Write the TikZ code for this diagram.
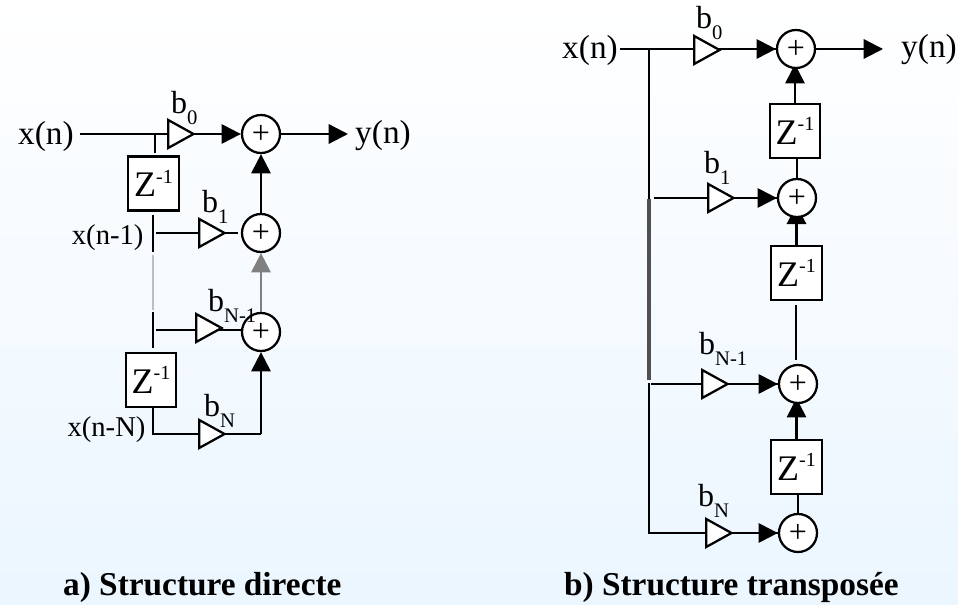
\documentclass[tikz,border=0pt]{standalone}
\usepackage{fontspec}
\setmainfont{Liberation Serif}
\usetikzlibrary{arrows.meta,shapes.geometric,backgrounds}

\definecolor{bgtop}{RGB}{255,255,255}
\definecolor{bgbottom}{RGB}{235,246,255}
\definecolor{fadegray}{RGB}{128,128,128}
\definecolor{palegray}{RGB}{190,190,190}
\definecolor{busgray}{RGB}{80,80,80}

\newcommand{\lowidx}[1]{\raisebox{-0.32em}{\fontsize{15.5}{15.5}\selectfont #1}}
\newcommand{\zinv}{{\fontsize{27}{27}\selectfont Z}\raisebox{0.42em}{\fontsize{15}{15}\selectfont -1}}
\newcommand{\plussign}{\raisebox{-1.5pt}{+}}

\tikzset{every picture/.style={line width=1.7pt}}
\tikzset{
  every on background layer/.style={line width=1.7pt},
  sumnode/.style={circle,draw,fill=white,inner sep=0pt,minimum size=28.5pt,font=\fontsize{24}{24}\selectfont},
  delaybox/.style={rectangle,draw,fill=white,inner sep=0pt,minimum width=38pt,minimum height=40.5pt,font=\fontsize{24}{24}\selectfont},
  gainnode/.style={isosceles triangle,isosceles triangle stretches,shape border rotate=0,draw,fill=white,inner sep=0pt,minimum width=21pt,minimum height=19pt,anchor=apex},
  biglabel/.style={inner sep=1pt,font=\fontsize{25}{25}\selectfont},
  tap/.style={inner sep=1pt,font=\fontsize{21.5}{21.5}\selectfont},
  gainlabel/.style={inner sep=0pt,anchor=base west,font=\fontsize{24}{24}\selectfont},
  caption/.style={inner sep=0pt,anchor=base west,font=\bfseries\fontsize{25}{25}\selectfont},
  headed/.style={-{Triangle[length=14.5pt,width=14.5pt]}},
}

\begin{document}
\begin{tikzpicture}[x=0.75pt,y=0.75pt,yscale=-1,xscale=1]
\useasboundingbox (0,0) rectangle (958,605);

% Left diagram
\node [biglabel] (xa) at (46,136) {x(n)};
\node [biglabel] (ya) at (383,136) {y(n)};
\node [sumnode] (sa0) at (261,134) {\plussign};
\node [sumnode] (sa1) at (261,233) {\plussign};
\node [sumnode] (sa2) at (261,332) {\plussign};
\node [delaybox] (za1) at (153.5,183.5) {\zinv};
\node [delaybox] (za2) at (151,380) {\zinv};
\node [gainnode] (ga0) at (196.5,134) {};
\node [gainnode] (ga1) at (227.5,233) {};
\node [gainnode] (ga2) at (224.5,328) {};
\node [gainnode] (ga3) at (227.5,434) {};
\node [tap,anchor=east] (xa1) at (146,238) {x(n-1)};
\node [tap,anchor=east] (xa2) at (148,430) {x(n-N)};

\coordinate (ca0) at (155,134);
\coordinate (ca1) at (155,153);
\coordinate (ca2) at (153,215);
\coordinate (ca3) at (153,252);
\coordinate (ca4) at (153,255);
\coordinate (ca5) at (153,310);
\coordinate (ca6) at (153,312);
\coordinate (ca7) at (153,348);
\coordinate (ca8) at (156,233);
\coordinate (ca9) at (238,233);
\coordinate (ca10) at (156,330);
\coordinate (ca11) at (241,330);
\coordinate (ca12) at (153,434);
\coordinate (ca13) at (261,434);
\coordinate (ca14) at (348,134);

\begin{scope}[on background layer]
\shade[top color=bgtop,bottom color=bgbottom,draw=none] (0,0) rectangle (958,605);
\draw [shorten <=3pt] (xa.east |- ga0.apex) -- (ga0.apex);
\draw (ca0) -- (ca1);
\draw (ca2) -- (ca3);
\draw [palegray] (ca4) -- (ca5);
\draw (ca6) -- (ca7);
\draw (ca8) -- (ga1.apex);
\draw (ga1.apex) -- (ca9);
\draw (ca10) -- (ca11);
\draw (za2.south -| ca12) -- (ca12) -- (ca13);
\draw [headed] (ga0.apex) -- (sa0.west);
\draw [headed] (sa0.east) -- (ca14);
\draw [headed] (sa1) -- (sa0.south);
\draw [headed,fadegray] (sa2) -- (sa1.south);
\draw [headed] (ca13) -- (sa2.south);
\end{scope}

% Text Node
\node [gainlabel] (la0) at (170,114) {b\lowidx{0}};
\node [gainlabel] (la1) at (201,213) {b\lowidx{1}};
\node [gainlabel] (la2) at (207,312) {b\lowidx{N-1}};
\node [gainlabel] (la3) at (203,417) {b\lowidx{N}};
\node [caption] (capa) at (62,596) {a) Structure directe};

% Right diagram
\node [biglabel] (xb) at (590,50) {x(n)};
\node [biglabel] (yb) at (929,50) {y(n)};
\node [sumnode] (sb0) at (796,49) {\plussign};
\node [sumnode] (sb1) at (797,198) {\plussign};
\node [sumnode] (sb2) at (798,384) {\plussign};
\node [sumnode] (sb3) at (798,533) {\plussign};
\node [delaybox] (zb1) at (795,131) {\zinv};
\node [delaybox] (zb2) at (796.5,273) {\zinv};
\node [delaybox] (zb3) at (796.5,467) {\zinv};
\node [gainnode] (gb0) at (722.5,50) {};
\node [gainnode] (gb1) at (736.5,198) {};
\node [gainnode] (gb2) at (730.5,384) {};
\node [gainnode] (gb3) at (734.5,533) {};

\coordinate (cb0) at (649,49);
\coordinate (cb1) at (649,199);
\coordinate (cb2) at (649,380);
\coordinate (cb3) at (649,383);
\coordinate (cb4) at (649,533);
\coordinate (cb5) at (654,198);
\coordinate (cb6) at (651,384);
\coordinate (cb7) at (796,305);
\coordinate (cb8) at (796,360);
\coordinate (cb9) at (883,49);

\begin{scope}[on background layer]
\draw (xb.east |- cb0) -- (sb0);
\draw (cb0) -- (cb1);
\draw [busgray,line width=2.6pt] (cb1) -- (cb2);
\draw (cb3) -- (cb4) -- (sb3);
\draw (cb5) -- (sb1);
\draw (cb6) -- (sb2);
\draw (cb7) -- (cb8);
\draw [headed] (gb0.apex |- cb0) -- (sb0.west);
\draw [headed] (sb0.east) -- (cb9);
\draw [headed] (gb1.apex) -- (sb1.west);
\draw [headed] (gb2.apex) -- (sb2.west);
\draw [headed] (gb3.apex) -- (sb3.west);
\draw [headed,shorten >=-3.75pt] (zb1.north) -- (zb1.north |- sb0.south);
\draw [headed,shorten >=-10pt] (zb2.north) -- (zb2.north |- sb1.south);
\draw [headed,shorten >=-4.5pt] (zb3.north) -- (zb3.north |- sb2.south);
\draw (sb1.north) -- (sb1.north |- zb1.south);
\draw (sb3.north) -- (sb3.north |- zb3.south);
\end{scope}

% Text Node
\node [gainlabel] (lb0) at (695,29) {b\lowidx{0}};
\node [gainlabel] (lb1) at (703,174) {b\lowidx{1}};
\node [gainlabel] (lb2) at (698,355) {b\lowidx{N-1}};
\node [gainlabel] (lb3) at (697,507) {b\lowidx{N}};
\node [caption] (capb) at (563,596) {b) Structure transposée};
\end{tikzpicture}
\end{document}
